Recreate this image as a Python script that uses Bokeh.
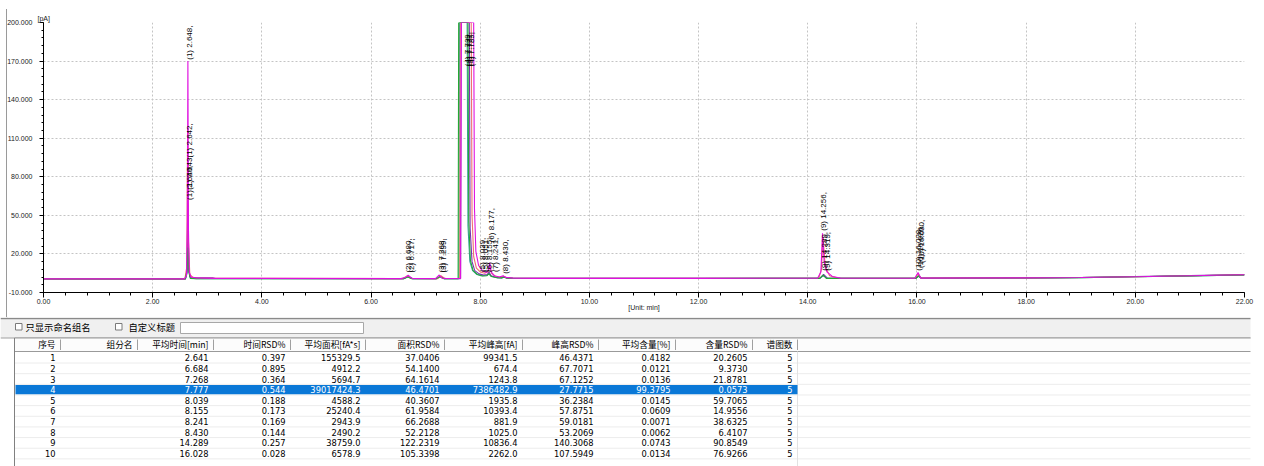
import numpy as np
from bokeh.plotting import figure
from bokeh.models import (Range1d, FixedTicker, ColumnDataSource, PrintfTickFormatter)
from bokeh.embed import file_html
from bokeh.resources import INLINE
from bokeh.core.properties import value

# ---------------- chromatogram data (time [min], signal [pA]) ----------------
mag_t = [0.0, 2.58, 2.62, 2.635, 2.645, 2.655, 2.67, 2.70, 2.80, 3.10,
         6.55, 6.63, 6.68, 6.75, 7.18, 7.25, 7.30, 7.38,
         7.64, 7.655, 7.88, 7.895, 7.92, 7.97, 8.04, 8.11, 8.15, 8.175, 8.20, 8.26, 8.35, 8.42, 8.46, 8.60,
         9.00, 12.00, 14.18, 14.24, 14.27, 14.30, 14.35, 14.45, 14.60,
         15.96, 16.02, 16.07, 18.0, 19.0, 20.0, 21.0, 22.0]
mag_v = [0.6, 0.6, 3.0, 45.0, 170.0, 40.0, 6.0, 2.0, 1.4, 1.0,
         0.8, 1.8, 3.4, 1.0, 0.8, 3.6, 1.2, 0.9,
         0.9, 200, 200, 55, 22, 11, 7, 5.5, 7.5, 13, 6, 3, 2, 3, 1.8, 1.2,
         1.0, 1.0, 1.1, 6, 36, 14, 6, 2.5, 1.2,
         1.1, 5.6, 1.2, 1.4, 1.7, 2.3, 3.0, 3.8]

grn_t = [0.0, 2.60, 2.63, 2.645, 2.66, 2.69, 2.80, 6.60, 6.67, 6.74, 7.20, 7.26, 7.33,
         7.595, 7.605, 7.775, 7.79, 7.82, 7.87, 7.95, 8.04, 8.12, 8.16, 8.20, 8.30, 8.40, 8.43, 8.48, 8.60,
         9.0, 12.0, 14.22, 14.28, 14.34, 15.98, 16.03, 16.08, 18.0, 19.0, 20.0, 21.0, 22.0]
grn_v = [0.5, 0.5, 8.0, 25.0, 6.0, 1.0, 0.7, 0.7, 2.0, 0.8, 0.8, 2.2, 0.8,
         0.8, 200, 200, 45, 15, 7, 4, 2.8, 3.0, 4.5, 2.5, 1.6, 1.4, 2.0, 1.2, 1.0,
         0.9, 0.9, 1.0, 3.5, 1.0, 1.1, 2.8, 1.1, 1.3, 1.6, 2.2, 2.9, 3.6]

pnk_t = [0.0, 2.59, 2.625, 2.64, 2.655, 2.68, 2.75, 6.58, 6.66, 6.73, 7.22, 7.28, 7.35,
         7.625, 7.635, 7.835, 7.85, 7.88, 7.93, 8.00, 8.08, 8.14, 8.17, 8.21, 8.28, 8.38, 8.43, 8.48, 8.60,
         9.0, 12.0, 14.20, 14.25, 14.28, 14.32, 14.40, 14.55, 15.97, 16.02, 16.07,
         18.0, 19.0, 20.0, 21.0, 22.0]
pnk_v = [0.6, 0.6, 10.0, 118.0, 30.0, 4.0, 1.2, 0.8, 2.8, 0.9, 0.8, 3.0, 0.9,
         0.9, 200, 200, 50, 18, 9, 6, 5, 6, 10, 5, 2.5, 1.8, 2.6, 1.5, 1.1,
         1.0, 1.0, 1.1, 8.0, 33.0, 10.0, 3.0, 1.2, 1.1, 4.5, 1.2,
         1.4, 1.7, 2.3, 3.0, 3.8]

pur_t = [0.0, 2.60, 2.63, 2.645, 2.66, 2.68, 2.72, 3.10, 3.15, 6.60, 6.68, 6.76, 7.20, 7.27, 7.34,
         7.64, 7.65, 7.80, 7.815, 7.85, 7.90, 7.98, 8.06, 8.13, 8.16, 8.20, 8.28, 8.40, 8.44, 8.50, 8.60,
         9.0, 12.0, 14.22, 14.29, 14.36, 15.98, 16.03, 16.08, 18.0, 19.0, 20.0, 21.0, 22.0]
pur_v = [0.5, 0.5, 6.0, 60.0, 12.0, 2.5, 1.6, 1.5, 0.9, 0.8, 2.4, 0.8, 0.8, 2.6, 0.8,
         0.8, 200, 200, 40, 14, 7, 4.5, 3.5, 4.0, 6.0, 3.0, 1.8, 1.5, 2.2, 1.3, 1.1,
         1.0, 1.0, 1.0, 4.0, 1.1, 1.1, 3.0, 1.2, 1.4, 1.7, 2.4, 3.1, 3.9]

tea_t = [0.0, 2.60, 2.63, 2.645, 2.66, 2.69, 2.80, 6.60, 6.68, 6.75, 7.20, 7.27, 7.34,
         7.61, 7.62, 7.76, 7.775, 7.81, 7.86, 7.94, 8.03, 8.12, 8.16, 8.20, 8.30, 8.40, 8.43, 8.48, 8.60,
         9.0, 12.0, 14.22, 14.29, 14.35, 15.98, 16.03, 16.08, 18.0, 19.0, 20.0, 21.0, 22.0]
tea_v = [0.6, 0.6, 5.0, 40.0, 8.0, 1.2, 0.8, 0.8, 2.2, 0.8, 0.8, 2.4, 0.8,
         0.8, 200, 200, 42, 14, 7, 4, 3, 3.2, 5.0, 2.6, 1.6, 1.4, 2.0, 1.2, 1.0,
         1.0, 1.0, 1.0, 3.2, 1.0, 1.1, 2.6, 1.1, 1.3, 1.6, 2.2, 2.9, 3.7]

# peak annotations
lab_t = [2.645, 2.640, 2.643, 2.642, 6.650, 6.705, 7.255, 7.290, 7.725, 7.760, 7.800,
         8.010, 8.065, 8.140, 8.177, 8.235, 8.430, 14.256, 14.275, 14.319, 16.000, 16.028, 16.050]
lab_v = [171, 62, 70, 95, 5.5, 5.5, 5.5, 5.5, 166, 166, 166,
         6, 6, 6, 29, 6, 4.5, 38, 7, 7, 7, 9, 13]
lab_s = ["(1) 2.648,", "(1) 2.640,", "(1) 2.643,", "(1) 2.642,", "(2) 6.680,", "(2) 6.717,",
         "(3) 7.268,", "(3) 7.299,", "(4) 7.739,", "(4) 7.777,", "(4) 7.789,",
         "(5) 8.039,", "(5) 8.051,", "(6) 8.155,", "(6) 8.177,", "(7) 8.241,", "(8) 8.430,",
         "(9) 14.256,", "(9) 14.289,", "(9) 14.319,", "(10) 16.028,", "(10) 16.026,", "(10) 16.030,"]

x_ticks = [0, 2, 4, 6, 8, 10, 12, 14, 16, 18, 20, 22]
y_ticks = [-10, 20, 50, 80, 110, 140, 170, 200]

# ---------------- table data ----------------
headers = ["序号", "组分名", "平均时间[min]", "时间RSD%", "平均面积[fA*s]", "面积RSD%",
           "平均峰高[fA]", "峰高RSD%", "平均含量[%]", "含量RSD%", "谱图数"]
peak_no = [1, 2, 3, 4, 5, 6, 7, 8, 9, 10]
comp_name = [""] * 10
mean_time = [2.641, 6.684, 7.268, 7.777, 8.039, 8.155, 8.241, 8.430, 14.289, 16.028]
time_rsd = [0.397, 0.895, 0.364, 0.544, 0.188, 0.173, 0.169, 0.144, 0.257, 0.028]
mean_area = [155329.5, 4912.2, 5694.7, 39017424.3, 4588.2, 25240.4, 2943.9, 2490.2, 38759.0, 6578.9]
area_rsd = [37.0406, 54.1400, 64.1614, 46.4701, 40.3607, 61.9584, 66.2688, 52.2128, 122.2319, 105.3398]
mean_height = [99341.5, 674.4, 1243.8, 7386482.9, 1935.8, 10393.4, 881.9, 1025.0, 10836.4, 2262.0]
height_rsd = [46.4371, 67.7071, 67.1252, 27.7715, 36.2384, 57.8751, 59.0181, 53.2069, 140.3068, 107.5949]
mean_content = [0.4182, 0.0121, 0.0136, 99.3795, 0.0145, 0.0609, 0.0071, 0.0062, 0.0743, 0.0134]
content_rsd = [20.2605, 9.3730, 21.8781, 0.0573, 59.7065, 14.9556, 38.6325, 6.4107, 90.8549, 76.9266]
n_chrom = [5] * 10
selected_row = 3

W = 1264
PANEL_R = 1250
TOP_H, CH, TH = 9, 308, 149
FL, FR, FT, FB = 43, 20, 13, 25

# ================= panel top border strip =================
top = figure(width=W, height=TOP_H, output_backend="svg", toolbar_location=None,
             x_axis_location=None, y_axis_location=None, min_border=0,
             x_range=Range1d(0, W), y_range=Range1d(TOP_H, 0))
top.grid.visible = False
top.outline_line_color = None
top.background_fill_color = "white"
top.border_fill_color = "white"
top.quad(left=6, right=PANEL_R, top=6.8, bottom=8.6, fill_color="#9a9a9a", line_color=None)
top.quad(left=6, right=7, top=6.8, bottom=TOP_H, fill_color="#9a9a9a", line_color=None)

# ================= chromatogram figure =================
p = figure(width=W, height=CH, output_backend="svg", toolbar_location=None,
           x_range=Range1d(0, 22), y_range=Range1d(-10, 200),
           min_border_left=FL, min_border_right=FR, min_border_top=FT, min_border_bottom=FB)
p.outline_line_color = None
p.background_fill_color = "white"
p.border_fill_alpha = 0
p.styles = {"background": "linear-gradient(to right, #ffffff 6px, #9a9a9a 6px, "
                          "#9a9a9a 7px, #ffffff 7px)"}

p.title.text = "[pA]"
p.title.align = "left"
p.title.offset = -6
p.title.standoff = 2
p.title.text_font = "Liberation Sans"
p.title.text_font_size = "7px"
p.title.text_font_style = "normal"
p.title.text_color = "#222222"

p.xaxis.ticker = FixedTicker(ticks=x_ticks,
                             minor_ticks=[round(v, 2) for v in np.arange(0, 22.001, 0.4)])
p.yaxis.ticker = FixedTicker(ticks=y_ticks, minor_ticks=list(range(-10, 201, 6)))
p.xaxis.formatter = PrintfTickFormatter(format="%.2f")
p.yaxis.formatter = PrintfTickFormatter(format="%.3f")
for ax in (p.xaxis, p.yaxis):
    ax.axis_line_color = "black"
    ax.major_tick_line_color = "black"
    ax.minor_tick_line_color = "black"
    ax.major_tick_in = 0
    ax.minor_tick_in = 0
    ax.major_label_text_font = "Liberation Sans"
    ax.major_label_text_font_size = "7px"
    ax.major_label_text_color = "#222222"
p.xaxis.major_tick_out = 5
p.xaxis.minor_tick_out = 3
p.xaxis.major_label_standoff = 1
p.xaxis.axis_label = "[Unit: min]"
p.xaxis.axis_label_standoff = -3
p.xaxis.axis_label_text_font = "Liberation Sans"
p.xaxis.axis_label_text_font_size = "7px"
p.xaxis.axis_label_text_font_style = "normal"
p.xaxis.axis_label_text_color = "#222222"
p.yaxis.major_tick_out = 4
p.yaxis.minor_tick_out = 2
p.yaxis.major_label_standoff = 7

p.grid.grid_line_color = "#c4c4c4"
p.grid.grid_line_dash = "2 2"
p.grid.grid_line_width = 1

traces = [(tea_t, tea_v, "#3aa0a0"), (pur_t, pur_v, "#7a2fb0"), (pnk_t, pnk_v, "#f07070"),
          (grn_t, grn_v, "#22aa33"), (mag_t, mag_v, "#e010e0")]
for tt, vv, col in traces:
    p.line(tt, vv, line_color=col, line_width=1.1)

lab_src = ColumnDataSource(dict(x=lab_t, y=lab_v, text=lab_s))
p.text(x="x", y="y", text="text", source=lab_src, angle=np.pi / 2, x_offset=2,
       text_align="left", text_baseline="middle", text_color="#000000",
       text_font=value("Liberation Sans"), text_font_size="8px")

# ================= table figure =================
tb = figure(width=W, height=TH, output_backend="svg", toolbar_location=None,
            x_range=Range1d(0, W), y_range=Range1d(TH, 0),
            x_axis_location=None, y_axis_location=None, min_border=0)
tb.grid.visible = False
tb.outline_line_color = None
tb.background_fill_color = "white"
tb.border_fill_color = "white"

edges = [14, 60, 137, 213, 290, 365, 444, 522, 598, 675, 752, 797]
hdr_top, hdr_bot = 20.5, 34
row_y0, row_h = 40.2, 10.65
row_y = [row_y0 + i * row_h for i in range(len(peak_no))]

# panel left border continues
tb.quad(left=6, right=7, top=0, bottom=1, fill_color="#9a9a9a", line_color=None)
# toolbar band
tb.quad(left=0, right=PANEL_R, top=1, bottom=20.5, fill_color="#f0f0f0", line_color=None)
tb.segment(x0=[0, 0], y0=[1, 20.5], x1=[PANEL_R, PANEL_R], y1=[1, 20.5],
           line_color=["#8a8a8a", "#a0a0a0"], line_width=[1.5, 1])
# checkboxes + input box
tb.quad(left=[15, 115], right=[21.5, 121.5], top=[6, 6], bottom=[12.5, 12.5],
        fill_color="white", line_color="#7a7a7a", line_width=1)
tb.quad(left=180, right=363, top=5, bottom=16, fill_color="white",
        line_color="#a8a8a8", line_width=1)
tb.text(x=[25, 128], y=[9.2, 9.2], text=["只显示命名组名", "自定义标题"],
        text_align="left", text_baseline="middle", text_color="#000000",
        text_font=value("Noto Sans CJK SC"), text_font_size="9.3px")

# header row
tb.quad(left=edges[0], right=PANEL_R, top=hdr_top, bottom=hdr_bot, fill_color="#fcfcfc",
        line_color=None)
tb.segment(x0=[edges[0], edges[0]], y0=[hdr_top, hdr_bot], x1=[PANEL_R, PANEL_R],
           y1=[hdr_top, hdr_bot], line_color="#9a9a9a", line_width=1)
tb.segment(x0=edges[1:], y0=[hdr_top + 1.5] * (len(edges) - 1), x1=edges[1:],
           y1=[hdr_bot - 1.5] * (len(edges) - 1), line_color="#a0a0a0", line_width=1)
tb.text(x=[e - 5 for e in edges[1:]], y=[(hdr_top + hdr_bot) / 2] * len(headers), text=headers,
        text_align="right", text_baseline="middle", text_color="#000000",
        text_font=value("Noto Sans CJK SC"), text_font_size="8.7px")

# left border of table
tb.segment(x0=[edges[0]], y0=[hdr_top], x1=[edges[0]], y1=[TH], line_color="#808080",
           line_width=1)

# row separators and last column boundary
sep_y = [row_y0 - row_h / 2 + (i + 1) * row_h for i in range(len(peak_no) + 1)]
tb.segment(x0=[edges[0] + 0.5] * len(sep_y), y0=sep_y, x1=[PANEL_R] * len(sep_y), y1=sep_y,
           line_color="#ececec", line_width=1)
tb.segment(x0=[edges[-1]], y0=[hdr_bot], x1=[edges[-1]], y1=[TH],
           line_color="#e2e2e2", line_width=1)

# selected row highlight
tb.quad(left=edges[0] + 1, right=edges[-1], top=row_y[selected_row] - 4.6,
        bottom=row_y[selected_row] + 4.6, fill_color="#0a78d7", line_color=None)

columns = [(peak_no, "{:d}"), (comp_name, "{}"), (mean_time, "{:.3f}"), (time_rsd, "{:.3f}"),
           (mean_area, "{:.1f}"), (area_rsd, "{:.4f}"), (mean_height, "{:.1f}"),
           (height_rsd, "{:.4f}"), (mean_content, "{:.4f}"), (content_rsd, "{:.4f}"),
           (n_chrom, "{:d}")]
cx, cy, ct, cc = [], [], [], []
for ci, (vals, fmt) in enumerate(columns):
    for ri, v in enumerate(vals):
        s = fmt.format(v)
        if s == "":
            continue
        cx.append(edges[ci + 1] - 5)
        cy.append(row_y[ri])
        ct.append(s)
        cc.append("#ffffff" if ri == selected_row else "#000000")
cell_src = ColumnDataSource(dict(x=cx, y=cy, text=ct, color=cc))
tb.text(x="x", y="y", text="text", text_color="color", source=cell_src,
        text_align="right", text_baseline="middle",
        text_font=value("DejaVu Sans"), text_font_size="8.3px")

open("out.html", "w").write(file_html([top, p, tb], INLINE))
